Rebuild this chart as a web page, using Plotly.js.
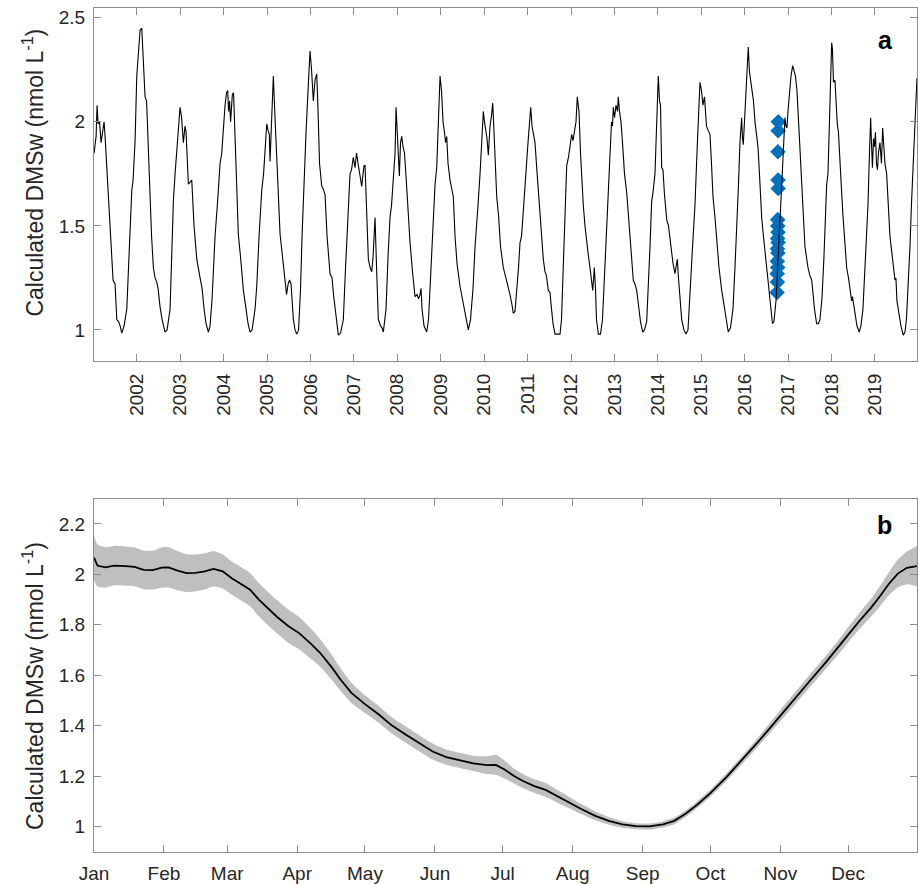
<!DOCTYPE html>
<html>
<head>
<meta charset="utf-8">
<script src="https://cdn.plot.ly/plotly-3.0.1.min.js"></script>
<style>
html,body{margin:0;padding:0;background:#fff;}
#chart{width:918px;height:884px;}
</style>
</head>
<body>
<div id="chart"></div>
<script>
// ---- Panel a: calculated DMSw time series (decimal year, nmol/L) ----
const dmsYears = [
2001.017,2001.040,2001.063,2001.086,2001.109,2001.143,2001.178,2001.213,2001.247,2001.270,2001.309,2001.351,2001.385,2001.420,2001.454,2001.500,2001.540,2001.581,2001.616,2001.655,2001.708,2001.770,2001.823,2001.885,2001.915,2001.961,
2002.000,2002.041,2002.076,2002.115,2002.134,2002.152,2002.191,2002.226,2002.260,2002.306,2002.341,2002.382,2002.421,2002.461,2002.490,2002.537,2002.583,2002.652,2002.698,2002.767,2002.801,2002.843,2002.882,2002.921,2002.962,
2002.997,2003.032,2003.073,2003.112,2003.135,2003.188,2003.227,2003.266,2003.319,2003.382,2003.458,2003.504,2003.550,2003.596,2003.649,2003.688,2003.734,2003.803,2003.872,2003.918,2003.957,2003.999,
2004.033,2004.068,2004.095,2004.114,2004.137,2004.160,2004.201,2004.229,2004.263,2004.298,2004.339,2004.390,2004.455,2004.517,2004.563,2004.609,2004.655,2004.724,2004.763,2004.816,2004.878,2004.920,2004.993,
2005.023,2005.053,2005.069,2005.108,2005.145,2005.184,2005.230,2005.300,2005.357,2005.415,2005.449,2005.484,2005.518,2005.553,2005.606,2005.645,2005.684,2005.726,2005.772,2005.806,2005.852,2005.898,2005.944,2005.990,
2006.025,2006.066,2006.105,2006.145,2006.175,2006.209,2006.260,2006.290,2006.336,2006.382,2006.451,2006.497,2006.531,2006.589,2006.642,2006.693,2006.757,2006.808,2006.865,2006.911,2006.946,2006.987,
2007.026,2007.061,2007.096,2007.130,2007.181,2007.211,2007.234,2007.257,2007.291,2007.333,2007.372,2007.411,2007.441,2007.464,2007.487,2007.522,2007.563,2007.614,2007.648,2007.678,2007.740,2007.786,2007.832,2007.867,2007.913,2007.948,2007.971,
2008.005,2008.028,2008.047,2008.074,2008.102,2008.132,2008.166,2008.212,2008.247,2008.293,2008.350,2008.408,2008.454,2008.489,2008.523,2008.546,2008.569,2008.615,2008.677,2008.719,2008.765,2008.822,2008.869,2008.908,2008.949,2008.984,
2009.018,2009.053,2009.087,2009.110,2009.138,2009.168,2009.214,2009.248,2009.290,2009.329,2009.375,2009.444,2009.502,2009.559,2009.635,2009.686,2009.744,2009.790,2009.829,2009.859,2009.905,2009.939,2009.981,
2010.008,2010.043,2010.066,2010.096,2010.135,2010.169,2010.197,2010.227,2010.262,2010.289,2010.331,2010.377,2010.441,2010.492,2010.538,2010.595,2010.642,2010.671,2010.711,2010.757,2010.791,2010.826,2010.860,2010.895,2010.941,2010.980,
2011.010,2011.044,2011.072,2011.102,2011.137,2011.171,2011.210,2011.252,2011.298,2011.362,2011.401,2011.436,2011.477,2011.516,2011.551,2011.586,2011.632,2011.689,2011.747,2011.781,2011.816,2011.862,2011.901,2011.942,2011.977,
2012.016,2012.046,2012.081,2012.115,2012.145,2012.184,2012.219,2012.253,2012.283,2012.322,2012.357,2012.398,2012.437,2012.472,2012.500,2012.518,2012.537,2012.564,2012.587,2012.629,2012.679,2012.725,2012.783,2012.840,2012.898,2012.933,2012.956,2012.974,
2013.002,2013.036,2013.071,2013.089,2013.117,2013.151,2013.186,2013.232,2013.283,2013.335,2013.382,2013.434,2013.474,2013.513,2013.554,2013.600,2013.651,2013.692,2013.743,2013.784,2013.819,2013.858,2013.888,2013.934,2013.969,
2014.010,2014.038,2014.061,2014.088,2014.118,2014.153,2014.204,2014.245,2014.291,2014.349,2014.395,2014.418,2014.448,2014.475,2014.510,2014.549,2014.602,2014.648,2014.694,2014.740,2014.786,2014.816,2014.855,2014.901,2014.936,2014.970,
2015.005,2015.039,2015.074,2015.120,2015.155,2015.201,2015.235,2015.270,2015.316,2015.362,2015.408,2015.470,2015.523,2015.569,2015.622,2015.673,2015.730,2015.776,2015.815,2015.857,2015.891,2015.930,2015.949,2015.967,2015.995,
2016.029,2016.082,2016.110,2016.133,2016.168,2016.202,2016.237,2016.276,2016.306,2016.340,2016.391,2016.432,2016.467,2016.506,2016.536,2016.582,2016.617,2016.640,2016.674,2016.702,2016.725,2016.766,2016.812,2016.870,2016.904,2016.927,2016.951,2016.974,
2016.997,2017.031,2017.066,2017.105,2017.135,2017.169,2017.204,2017.238,2017.273,2017.307,2017.342,2017.388,2017.423,2017.457,2017.503,2017.542,2017.572,2017.607,2017.657,2017.699,2017.733,2017.779,2017.825,2017.888,2017.918,2017.941,2017.975,
2018.003,2018.021,2018.044,2018.079,2018.113,2018.132,2018.159,2018.194,2018.228,2018.263,2018.297,2018.348,2018.390,2018.424,2018.463,2018.482,2018.505,2018.539,2018.585,2018.638,2018.677,2018.723,2018.770,2018.809,2018.839,2018.873,2018.901,2018.919,2018.942,2018.965,2018.988,
2019.011,2019.034,2019.057,2019.080,2019.115,2019.149,2019.177,2019.207,2019.230,2019.269,2019.311,2019.345,2019.384,2019.414,2019.437,2019.460,2019.483,2019.506,2019.552,2019.598,2019.651,2019.691,2019.725,2019.767,2019.806,2019.840,2019.882,2019.921,2019.967
];
const dmsValues = [
1.85,1.88,1.93,2.08,1.99,2.00,1.90,1.95,2.00,1.93,1.78,1.60,1.465,1.36,1.24,1.22,1.05,1.04,1.02,0.985,1.02,1.10,1.35,1.67,1.72,1.91,
2.22,2.36,2.44,2.45,2.38,2.26,2.12,2.10,1.90,1.62,1.45,1.30,1.25,1.23,1.20,1.11,1.05,0.99,1.00,1.10,1.35,1.62,1.75,1.86,1.97,
2.07,2.02,1.90,1.98,1.95,1.70,1.71,1.72,1.50,1.34,1.25,1.20,1.10,1.03,0.99,1.02,1.15,1.45,1.65,1.80,1.85,1.98,
2.08,2.14,2.15,2.05,2.10,2.00,2.13,2.14,1.90,1.65,1.46,1.35,1.19,1.10,1.03,0.99,1.00,1.10,1.21,1.45,1.67,1.75,1.99,
1.96,1.94,1.81,2.02,2.22,2.02,1.80,1.46,1.35,1.24,1.17,1.22,1.24,1.22,1.05,1.00,0.98,1.00,1.20,1.45,1.75,1.95,2.15,2.34,
2.25,2.10,2.20,2.23,2.05,1.80,1.69,1.68,1.65,1.45,1.27,1.25,1.17,1.05,0.975,0.985,1.05,1.30,1.60,1.75,1.77,1.83,
1.78,1.85,1.80,1.75,1.69,1.75,1.79,1.79,1.55,1.34,1.30,1.28,1.35,1.50,1.54,1.30,1.05,1.02,1.01,0.99,1.10,1.35,1.54,1.60,1.75,1.85,2.07,
1.90,1.83,1.74,1.90,1.93,1.88,1.85,1.70,1.55,1.42,1.28,1.16,1.17,1.15,1.17,1.20,1.10,1.02,0.99,1.05,1.25,1.50,1.70,1.78,2.00,2.22,
2.15,2.00,1.95,1.90,1.93,1.80,1.72,1.68,1.64,1.45,1.32,1.21,1.15,1.08,1.00,1.05,1.20,1.40,1.54,1.60,1.75,1.90,2.05,
2.00,1.96,1.92,1.84,1.98,2.03,2.09,1.95,1.75,1.64,1.55,1.40,1.30,1.26,1.22,1.17,1.12,1.08,1.09,1.20,1.30,1.42,1.45,1.55,1.72,1.81,
1.90,1.98,2.07,1.98,1.93,1.90,1.78,1.65,1.50,1.34,1.28,1.26,1.19,1.18,1.10,1.03,0.98,0.98,0.98,1.05,1.25,1.60,1.79,1.83,1.88,
1.94,1.91,1.96,2.00,2.12,2.05,1.85,1.70,1.60,1.50,1.42,1.36,1.30,1.22,1.19,1.24,1.30,1.20,1.05,0.98,0.98,1.05,1.30,1.55,1.86,2.00,1.98,2.07,
2.02,2.08,2.05,2.12,2.05,2.00,1.90,1.75,1.66,1.50,1.35,1.24,1.22,1.19,1.12,1.04,0.99,1.00,1.04,1.20,1.40,1.62,1.66,1.75,1.95,
2.22,2.10,2.08,1.78,1.77,1.65,1.53,1.50,1.42,1.32,1.27,1.30,1.34,1.25,1.15,1.05,1.00,0.98,1.00,1.15,1.35,1.46,1.60,1.85,2.00,2.19,
2.15,2.08,2.12,1.98,1.96,1.94,1.80,1.64,1.54,1.40,1.30,1.19,1.12,1.05,0.99,1.01,1.10,1.30,1.46,1.70,1.90,2.02,1.92,1.89,2.00,
2.15,2.36,2.24,2.20,2.16,2.10,2.00,1.94,1.88,1.75,1.54,1.45,1.38,1.30,1.25,1.15,1.08,1.03,1.04,1.10,1.15,1.33,1.53,1.78,1.92,2.02,1.98,1.97,
2.05,2.15,2.22,2.27,2.25,2.22,2.15,2.00,1.88,1.70,1.55,1.40,1.35,1.30,1.26,1.24,1.18,1.10,1.03,1.03,1.05,1.15,1.35,1.70,1.75,1.90,2.15,
2.38,2.35,2.19,2.20,2.05,1.99,1.95,1.78,1.68,1.55,1.45,1.30,1.25,1.20,1.14,1.16,1.13,1.08,1.02,0.99,1.02,1.10,1.30,1.46,1.60,1.85,2.02,1.90,1.78,1.92,1.88,
1.95,1.80,1.77,1.85,1.90,1.80,1.97,1.88,1.80,1.75,1.60,1.45,1.38,1.32,1.28,1.24,1.25,1.14,1.08,1.02,0.975,0.99,1.05,1.21,1.40,1.60,1.78,2.00,2.21
];
// Observations (blue diamonds), autumn 2016
const obsYears  = [2016.773,2016.770,2016.766,2016.768,2016.772,2016.760,2016.762,2016.768,2016.758,2016.770,2016.755,2016.765,2016.752,2016.760,2016.748,2016.752,2016.745];
const obsValues = [2.00,1.957,1.856,1.72,1.68,1.53,1.50,1.47,1.44,1.42,1.39,1.37,1.33,1.30,1.27,1.23,1.18];
const yearTicks = [2002,2003,2004,2005,2006,2007,2008,2009,2010,2011,2012,2013,2014,2015,2016,2017,2018,2019];
const topYTicks = [1,1.5,2,2.5];

// ---- Panel b: climatology (day of year), mean and spread ----
const climDays = [0,1.5,5,9,14,18,22,26,30,33,37,41,45,49,53,57,61,65,69,73,77,81,86,91,96,100,105,109,114,120,126,132,138,144,150,156,162,168,174,178,182,186,190,195,200,205,210,216,222,228,234,240,246,252,257,262,267,273,280,287,294,300,304,310,317,324,329,334,339,344,348,352,356,360,364.5];
const climMean = [2.067,2.035,2.028,2.035,2.033,2.030,2.018,2.017,2.027,2.028,2.015,2.005,2.006,2.012,2.022,2.012,1.985,1.963,1.940,1.900,1.865,1.832,1.795,1.766,1.725,1.690,1.635,1.585,1.530,1.485,1.445,1.400,1.365,1.330,1.297,1.275,1.262,1.250,1.243,1.244,1.225,1.200,1.180,1.160,1.145,1.120,1.097,1.068,1.042,1.022,1.008,1.001,1.000,1.008,1.022,1.050,1.085,1.132,1.195,1.263,1.334,1.397,1.440,1.503,1.577,1.650,1.703,1.760,1.815,1.866,1.912,1.962,2.003,2.026,2.033];
const climSpread = [0.09,0.083,0.08,0.078,0.078,0.077,0.077,0.077,0.08,0.08,0.078,0.075,0.073,0.072,0.07,0.068,0.066,0.066,0.066,0.066,0.066,0.066,0.066,0.064,0.06,0.055,0.05,0.045,0.04,0.035,0.033,0.032,0.032,0.032,0.032,0.03,0.03,0.03,0.035,0.04,0.035,0.03,0.028,0.027,0.027,0.025,0.023,0.02,0.018,0.015,0.013,0.012,0.012,0.012,0.013,0.013,0.013,0.014,0.015,0.016,0.018,0.02,0.022,0.024,0.025,0.026,0.028,0.03,0.032,0.035,0.04,0.045,0.055,0.065,0.08];
const monthDays = [0,31,59,90,120,151,181,212,243,273,304,334];
const monthLabels = ['Jan','Feb','Mar','Apr','May','Jun','Jul','Aug','Sep','Oct','Nov','Dec'];
const botYTicks = [1,1.2,1.4,1.6,1.8,2,2.2];

const climUpper = climMean.map((m,i)=>m+climSpread[i]);
const climLower = climMean.map((m,i)=>m-climSpread[i]);

const FONT = 'Liberation Sans, Arial, Helvetica, sans-serif';
const AX = '#8c8c8c';
const TXT = '#262626';

const traces = [
  {x: obsYears, y: obsValues, xaxis:'x', yaxis:'y', mode:'markers', type:'scatter',
   marker:{symbol:'diamond', size:12, color:'#0072BD', line:{width:0}}, hoverinfo:'skip'},
  {x: dmsYears, y: dmsValues, xaxis:'x', yaxis:'y', mode:'lines', type:'scatter',
   line:{color:'#000000', width:1.1}, hoverinfo:'skip'},
  {x: climDays, y: climUpper, xaxis:'x2', yaxis:'y2', mode:'lines', type:'scatter',
   line:{width:0, color:'rgba(0,0,0,0)', shape:'spline', smoothing:0.6}, hoverinfo:'skip'},
  {x: climDays, y: climLower, xaxis:'x2', yaxis:'y2', mode:'lines', type:'scatter',
   fill:'tonexty', fillcolor:'#bfbfbf', line:{width:0, color:'rgba(0,0,0,0)', shape:'spline', smoothing:0.6}, hoverinfo:'skip'},
  {x: climDays, y: climMean, xaxis:'x2', yaxis:'y2', mode:'lines', type:'scatter',
   line:{color:'#000000', width:1.8}, hoverinfo:'skip'}
];

function axisBase(){
  return {showline:true, linecolor:AX, linewidth:1, mirror:'ticks', ticks:'inside', ticklen:7,
          tickcolor:AX, tickwidth:1, showgrid:false, zeroline:false,
          tickfont:{family:FONT, size:19, color:TXT}};
}

const layout = {
  width:918, height:884,
  margin:{l:94, r:1, t:8, b:32},
  paper_bgcolor:'#ffffff', plot_bgcolor:'#ffffff',
  showlegend:false,
  font:{family:FONT, color:TXT},
  xaxis: Object.assign(axisBase(), {domain:[0,1], anchor:'y', range:[2001.015,2019.968],
          tickmode:'array', tickvals:yearTicks, ticktext:yearTicks.map(String), tickangle:-90, ticklabelstandoff:4}),
  yaxis: Object.assign(axisBase(), {domain:[0.5818,1], anchor:'x', range:[0.851,2.547],
          tickmode:'array', tickvals:topYTicks, ticktext:topYTicks.map(String), ticklabelstandoff:4}),
  xaxis2: Object.assign(axisBase(), {domain:[0,1], anchor:'y2', range:[0,364.5],
          tickmode:'array', tickvals:monthDays, ticktext:monthLabels, tickangle:0, ticklabelstandoff:4}),
  yaxis2: Object.assign(axisBase(), {domain:[0,0.41825], anchor:'x2', range:[0.8985,2.299],
          tickmode:'array', tickvals:botYTicks, ticktext:botYTicks.map(String), ticklabelstandoff:4}),
  annotations:[
    {text:'Calculated DMSw (nmol L<sup>-1</sup>)', xref:'paper', yref:'paper', x:-0.0741, y:0.805,
     xanchor:'center', yanchor:'middle', textangle:-90, showarrow:false, font:{family:FONT, size:23, color:TXT}},
    {text:'Calculated DMSw (nmol L<sup>-1</sup>)', xref:'paper', yref:'paper', x:-0.0741, y:0.1967,
     xanchor:'center', yanchor:'middle', textangle:-90, showarrow:false, font:{family:FONT, size:23, color:TXT}},
    {text:'<b>a</b>', xref:'paper', yref:'paper', x:0.9623, y:0.962, xanchor:'center', yanchor:'middle',
     showarrow:false, font:{family:FONT, size:25, color:'#000'}},
    {text:'<b>b</b>', xref:'paper', yref:'paper', x:0.961, y:0.3874, xanchor:'center', yanchor:'middle',
     showarrow:false, font:{family:FONT, size:25, color:'#000'}}
  ]
};

Plotly.newPlot('chart', traces, layout, {displayModeBar:false, staticPlot:true});
</script>
</body>
</html>
